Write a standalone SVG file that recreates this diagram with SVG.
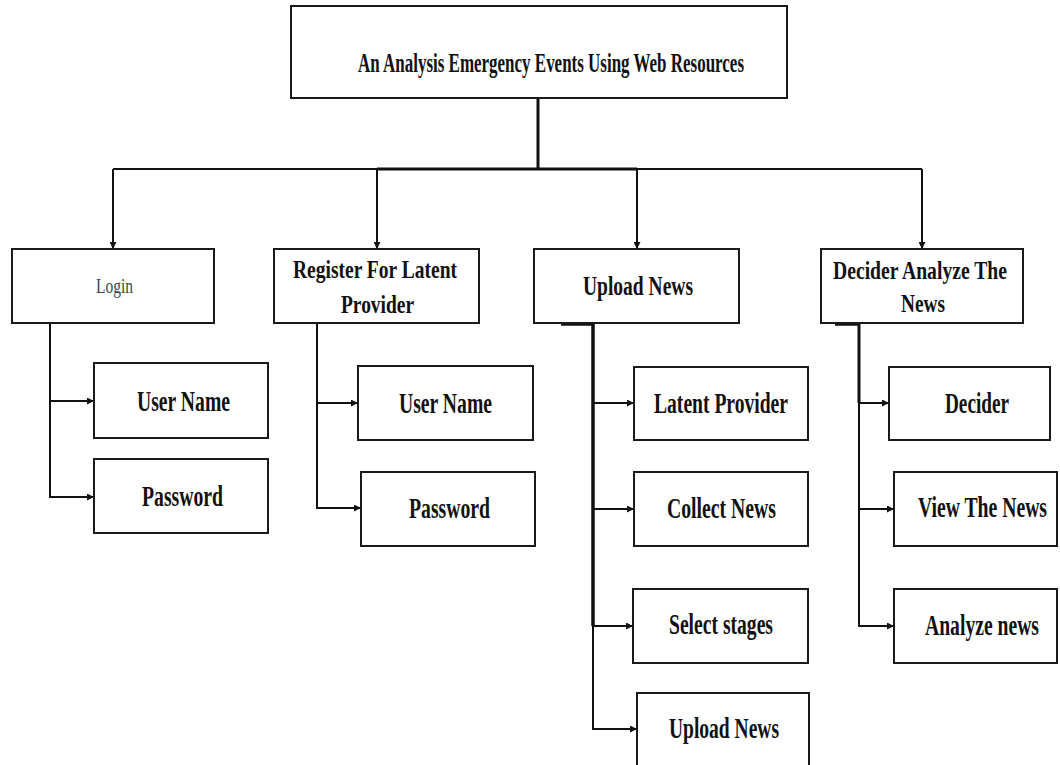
<svg xmlns="http://www.w3.org/2000/svg" width="1060" height="765" viewBox="0 0 1060 765">
<style>
.box{fill:#fff;stroke:#1a1a1a;stroke-width:2}
.t{font-family:"Liberation Serif","Times New Roman",serif;font-weight:bold;fill:#111;font-size:30px}
.t1{font-size:26px}
.t0{font-size:28px}
.lg{font-size:21px;font-weight:normal;fill:#444}
.c{stroke:#111;stroke-width:2;fill:none}
.k{stroke-width:3.5}
</style>
<defs>
<marker id="ah" markerUnits="userSpaceOnUse" viewBox="0 0 10 10" refX="10" refY="5" markerWidth="8" markerHeight="7" orient="auto">
<path d="M0,0 L10,5 L0,10 z" fill="#111"/>
</marker>
</defs>
<rect width="1060" height="765" fill="#fff"/>
<g id="connectors">
<line class="c" x1="538" y1="98" x2="538" y2="169" style="stroke-width:3"/>
<line class="c" x1="113" y1="169" x2="922" y2="169"/>
<line class="c" x1="377" y1="169" x2="637" y2="169" style="stroke-width:3"/>
<line class="c" x1="113" y1="169" x2="113" y2="249" marker-end="url(#ah)"/>
<line class="c" x1="377" y1="169" x2="377" y2="249" marker-end="url(#ah)"/>
<line class="c" x1="637" y1="169" x2="637" y2="249" marker-end="url(#ah)"/>
<line class="c" x1="922" y1="169" x2="922" y2="249" marker-end="url(#ah)"/>
<path class="c" d="M50,323 V497"/>
<line class="c" x1="50" y1="401" x2="94" y2="401" marker-end="url(#ah)"/>
<line class="c" x1="49" y1="497" x2="94" y2="497" marker-end="url(#ah)"/>
<path class="c" d="M317,323 V508"/>
<line class="c" x1="317" y1="403" x2="358" y2="403" marker-end="url(#ah)"/>
<line class="c" x1="316" y1="508" x2="361" y2="508" marker-end="url(#ah)"/>
<path class="c k" d="M593,323 V626"/>
<path class="c k" d="M561,324 H593"/>
<path class="c" d="M593,626 V729"/>
<line class="c" x1="593" y1="403" x2="634" y2="403" marker-end="url(#ah)"/>
<line class="c" x1="593" y1="509" x2="634" y2="509" marker-end="url(#ah)"/>
<line class="c" x1="593" y1="626" x2="633" y2="626" marker-end="url(#ah)"/>
<line class="c" x1="592" y1="729" x2="637" y2="729" marker-end="url(#ah)"/>
<path class="c" d="M859,323 V403" style="stroke-width:3"/>
<path class="c k" d="M835,324 H859"/>
<path class="c" d="M859,403 V626"/>
<line class="c" x1="859" y1="403" x2="889" y2="403" marker-end="url(#ah)"/>
<line class="c" x1="859" y1="509" x2="894" y2="509" marker-end="url(#ah)"/>
<line class="c" x1="858" y1="626" x2="894" y2="626" marker-end="url(#ah)"/>
</g>
<g id="root"><rect class="box" x="291" y="6" width="496" height="92"/><text class="t t0" x="358" y="72" textLength="386" lengthAdjust="spacingAndGlyphs">An Analysis Emergency Events Using Web Resources</text></g>
<g id="login"><rect class="box" x="12" y="249" width="202" height="74"/><text class="t lg" x="96" y="293" textLength="37" lengthAdjust="spacingAndGlyphs">Login</text></g>
<g id="register"><rect class="box" x="274" y="249" width="205" height="74"/><text class="t t1" x="293" y="278" textLength="164" lengthAdjust="spacingAndGlyphs">Register For Latent</text><text class="t t1" x="341" y="313" textLength="73" lengthAdjust="spacingAndGlyphs">Provider</text></g>
<g id="upload"><rect class="box" x="534" y="249" width="205" height="74"/><text class="t t0" x="583" y="295" textLength="110" lengthAdjust="spacingAndGlyphs">Upload News</text></g>
<g id="decider-analyze"><rect class="box" x="821" y="249" width="202" height="74"/><text class="t t1" x="833" y="279" textLength="174" lengthAdjust="spacingAndGlyphs">Decider Analyze The</text><text class="t t1" x="901" y="312" textLength="44" lengthAdjust="spacingAndGlyphs">News</text></g>
<g id="login-user"><rect class="box" x="94" y="363" width="174" height="75"/><text class="t" x="137" y="411" textLength="93" lengthAdjust="spacingAndGlyphs">User Name</text></g>
<g id="login-pass"><rect class="box" x="94" y="459" width="174" height="74"/><text class="t" x="142" y="506" textLength="81" lengthAdjust="spacingAndGlyphs">Password</text></g>
<g id="reg-user"><rect class="box" x="358" y="366" width="175" height="74"/><text class="t" x="399" y="413" textLength="93" lengthAdjust="spacingAndGlyphs">User Name</text></g>
<g id="reg-pass"><rect class="box" x="361" y="472" width="174" height="74"/><text class="t" x="409" y="518" textLength="81" lengthAdjust="spacingAndGlyphs">Password</text></g>
<g id="latent"><rect class="box" x="634" y="367" width="174" height="73"/><text class="t" x="654" y="413" textLength="134" lengthAdjust="spacingAndGlyphs">Latent Provider</text></g>
<g id="collect"><rect class="box" x="634" y="472" width="174" height="74"/><text class="t" x="667" y="518" textLength="109" lengthAdjust="spacingAndGlyphs">Collect News</text></g>
<g id="select"><rect class="box" x="633" y="589" width="175" height="74"/><text class="t" x="669" y="634" textLength="104" lengthAdjust="spacingAndGlyphs">Select stages</text></g>
<g id="upload2"><rect class="box" x="637" y="693" width="172" height="80"/><text class="t" x="669" y="738" textLength="110" lengthAdjust="spacingAndGlyphs">Upload News</text></g>
<g id="decider"><rect class="box" x="889" y="367" width="161" height="73"/><text class="t" x="945" y="413" textLength="64" lengthAdjust="spacingAndGlyphs">Decider</text></g>
<g id="view"><rect class="box" x="894" y="472" width="163" height="74"/><text class="t" x="918" y="517" textLength="129" lengthAdjust="spacingAndGlyphs">View The News</text></g>
<g id="analyze"><rect class="box" x="894" y="589" width="163" height="74"/><text class="t" x="925" y="635" textLength="114" lengthAdjust="spacingAndGlyphs">Analyze news</text></g>
</svg>
